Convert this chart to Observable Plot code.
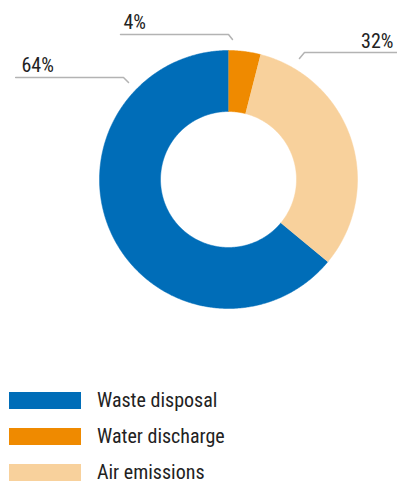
<!DOCTYPE html>
<html>
<head>
<meta charset="utf-8">
<script src="https://cdn.jsdelivr.net/npm/d3@7"></script>
<script src="https://cdn.jsdelivr.net/npm/@observablehq/plot@0.6"></script>
<style>
  html, body { margin: 0; padding: 0; background: #fff; }
  body { width: 397px; height: 484px; overflow: hidden; font-family: "Liberation Sans Narrow", "Roboto Condensed", "DejaVu Sans Condensed", sans-serif; color: #222; }
  #legend { padding-top: 12px; }
  .row { display: flex; align-items: center; height: 17px; margin-bottom: 19px; }
  .sw { width: 72px; height: 17px; margin-left: 9px; margin-right: 16px; flex: none; }
  .lab { display: inline-block; font-size: 20px; line-height: 17px; height: 17px; white-space: nowrap; }
</style>
</head>
<body>
<div id="chart"></div>
<div id="legend"></div>
<script>
// ---- data ----
const categories = ["Waste disposal", "Water discharge", "Air emissions"];
const shares = [64, 4, 32];                 // percent
const sliceOrder = ["Water discharge", "Air emissions", "Waste disposal"]; // clockwise from 12 o'clock
const palette = ["#006db8", "#ef8a00", "#f8d19c"];

// ---- geometry (unit circle; outer radius = 1) ----
const innerRadius = 0.527;
const rows = categories.map((c, i) => ({category: c, share: shares[i]}));
const pie = d3.pie().value(d => d.share)
  .sort((a, b) => sliceOrder.indexOf(a.category) - sliceOrder.indexOf(b.category));
const arcs = pie(rows);

// polygon outline of each ring slice (angle clockwise from top)
const ringPts = [];
for (const a of arcs) {
  const n = Math.max(8, Math.ceil((a.endAngle - a.startAngle) / (Math.PI / 360)));
  const outer = d3.range(n + 1).map(k => a.startAngle + (a.endAngle - a.startAngle) * k / n);
  for (const t of outer) ringPts.push({category: a.data.category, x: Math.sin(t), y: Math.cos(t)});
  for (const t of outer.slice().reverse()) ringPts.push({category: a.data.category, x: innerRadius * Math.sin(t), y: innerRadius * Math.cos(t)});
}

// label annotations (layout, in chart units)
const labelLayout = {
  "Water discharge": {text: [-0.814, 1.163], anchor: "start", leader: [[-0.837, 1.124], [0.0, 1.124], [0.031, 1.085]]},
  "Air emissions":   {text: [1.279, 1.023], anchor: "end",   leader: [[1.32, 0.984], [0.589, 0.984], [0.550, 0.938]]},
  "Waste disposal":  {text: [-1.605, 0.837], anchor: "start", leader: [[-1.65, 0.791], [-0.814, 0.791], [-0.775, 0.752]]}
};
const labels = rows.map(r => ({category: r.category, label: r.share + "%", x: labelLayout[r.category].text[0], y: labelLayout[r.category].text[1], anchor: labelLayout[r.category].anchor}));
const leaders = rows.flatMap(r => labelLayout[r.category].leader.map(([x, y]) => ({category: r.category, x, y})));

const W = 397, H = 380, R = 129, cx = 228, cy = 179;
const chart = Plot.plot({
  width: W, height: H,
  margin: 0,
  x: {domain: [-cx / R, (W - cx) / R], axis: null},
  y: {domain: [-(H - cy) / R, cy / R], axis: null},
  color: {domain: categories, range: palette},
  style: {fontFamily: '"Liberation Sans Narrow", "Roboto Condensed", "DejaVu Sans Condensed", sans-serif', background: "#fff"},
  marks: [
    Plot.line(ringPts, {x: "x", y: "y", z: "category", fill: "category", stroke: "category", strokeWidth: 0.5}),
    Plot.line(leaders, {x: "x", y: "y", z: "category", stroke: "#b3b3b3", strokeWidth: 1.5}),
    Plot.text(labels.filter(d => d.anchor === "start"), {x: "x", y: "y", text: "label", textAnchor: "start", lineAnchor: "bottom", fontSize: 20, fill: "#222"}),
    Plot.text(labels.filter(d => d.anchor === "end"), {x: "x", y: "y", text: "label", textAnchor: "end", lineAnchor: "bottom", fontSize: 20, fill: "#222"})
  ]
});
document.getElementById("chart").appendChild(chart);

// legend
const legend = document.getElementById("legend");
categories.forEach((c, i) => {
  const row = document.createElement("div");
  row.className = "row";
  const sw = document.createElement("div");
  sw.className = "sw";
  sw.style.background = palette[i];
  const lab = document.createElement("span");
  lab.className = "lab";
  lab.textContent = c;
  row.appendChild(sw); row.appendChild(lab);
  legend.appendChild(row);
});
</script>
</body>
</html>
